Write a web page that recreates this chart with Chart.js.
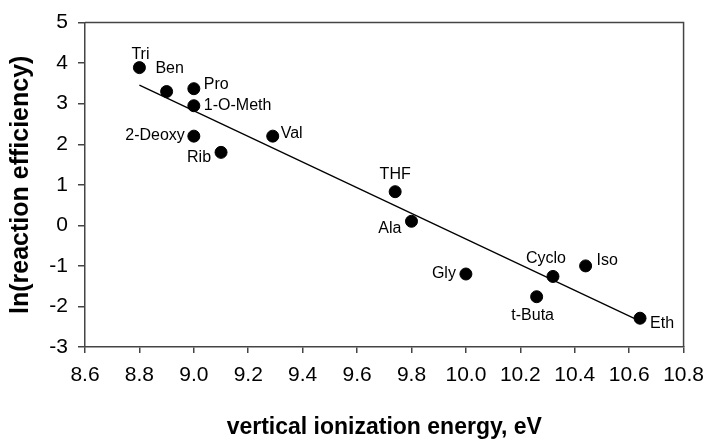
<!DOCTYPE html>
<html>
<head>
<meta charset="utf-8">
<script src="https://cdn.jsdelivr.net/npm/chart.js@4/dist/chart.umd.min.js"></script>
<style>
  html, body { margin: 0; padding: 0; background: #fff; }
  #wrap { width: 714px; height: 447px; }
</style>
</head>
<body>
<div id="wrap"><canvas id="c" width="714" height="447"></canvas></div>
<script>
// ---- data ----
const names = ["Tri", "Ben", "Pro", "1-O-Meth", "2-Deoxy", "Rib", "Val", "THF", "Ala", "Gly", "Cyclo", "Iso", "t-Buta", "Eth"];
const ionEnergy = [8.80, 8.90, 9.00, 9.00, 9.00, 9.10, 9.29, 9.74, 9.80, 10.00, 10.32, 10.44, 10.26, 10.64];
const lnEff = [3.89, 3.30, 3.37, 2.95, 2.20, 1.80, 2.20, 0.83, 0.10, -1.20, -1.26, -1.00, -1.76, -2.29];
const fitX = [8.80, 10.64];
const fitY = [3.46, -2.36];
const xTicks = [8.6, 8.8, 9.0, 9.2, 9.4, 9.6, 9.8, 10.0, 10.2, 10.4, 10.6, 10.8];
const yTicks = [-3, -2, -1, 0, 1, 2, 3, 4, 5];
const xTitle = "vertical ionization energy, eV";
const yTitle = "ln(reaction efficiency)";

// ---- label placement (style) ----
const labelPlace = {
  "Tri":      { dx: 1,   dy: -13, align: "center" },
  "Ben":      { dx: 3,   dy: -23, align: "center" },
  "Pro":      { dx: 10,  dy: -4,  align: "left" },
  "1-O-Meth": { dx: 10,  dy: 0,   align: "left" },
  "2-Deoxy":  { dx: -9,  dy: -1,  align: "right" },
  "Rib":      { dx: -10, dy: 5,   align: "right" },
  "Val":      { dx: 8,   dy: -3,  align: "left" },
  "THF":      { dx: 0,   dy: -17, align: "center" },
  "Ala":      { dx: -10, dy: 7,   align: "right" },
  "Gly":      { dx: -10, dy: 0,   align: "right" },
  "Cyclo":    { dx: -7,  dy: -18, align: "center" },
  "Iso":      { dx: 11,  dy: -5,  align: "left" },
  "t-Buta":   { dx: -4,  dy: 19,  align: "center" },
  "Eth":      { dx: 10,  dy: 5,   align: "left" }
};

const FONT = "'Liberation Sans', Arial, sans-serif";
const AXIS_COLOR = "#444";

const pointLabels = {
  id: "pointLabels",
  afterDatasetsDraw(chart) {
    const ctx = chart.ctx;
    const xs = chart.scales.x, ys = chart.scales.y;
    ctx.save();
    ctx.font = "16px " + FONT;
    ctx.fillStyle = "#000";
    ctx.textBaseline = "middle";
    names.forEach((n, i) => {
      const p = labelPlace[n];
      const px = xs.getPixelForValue(ionEnergy[i]) + p.dx;
      const py = ys.getPixelForValue(lnEff[i]) + p.dy;
      ctx.textAlign = p.align;
      ctx.fillText(n, px, py);
    });
    ctx.restore();
  }
};

const frame = {
  id: "frame",
  beforeDatasetsDraw(chart) {
    const a = chart.chartArea, ctx = chart.ctx;
    ctx.save();
    ctx.strokeStyle = AXIS_COLOR;
    ctx.lineWidth = 1.5;
    ctx.beginPath();
    ctx.moveTo(a.left, a.top);
    ctx.lineTo(a.right, a.top);
    ctx.lineTo(a.right, a.bottom);
    ctx.stroke();
    ctx.restore();
  }
};

new Chart(document.getElementById("c"), {
  type: "scatter",
  data: {
    datasets: [
      {
        type: "line",
        data: fitX.map((x, i) => ({ x: x, y: fitY[i] })),
        borderColor: "#000",
        borderWidth: 1.3,
        pointRadius: 0,
        fill: false,
        order: 2
      },
      {
        data: ionEnergy.map((x, i) => ({ x: x, y: lnEff[i] })),
        backgroundColor: "#000",
        borderColor: "#000",
        pointRadius: 6,
        pointHoverRadius: 6,
        order: 1
      }
    ]
  },
  options: {
    responsive: false,
    animation: false,
    events: [],
    layout: { padding: { top: 16, right: 28, left: 0, bottom: 0 } },
    plugins: { legend: { display: false }, tooltip: { enabled: false } },
    scales: {
      x: {
        type: "linear",
        min: 8.6, max: 10.8,
        afterBuildTicks: s => { s.ticks = xTicks.map(v => ({ value: v })); },
        afterFit: s => { s.height = 100; },
        ticks: {
          callback: v => v.toFixed(1),
          font: { size: 21, family: FONT },
          color: "#000",
          padding: 10,
          maxRotation: 0,
          autoSkip: false
        },
        grid: { drawOnChartArea: false, drawTicks: true, tickLength: 6, color: AXIS_COLOR, lineWidth: 1.5 },
        border: { display: true, color: AXIS_COLOR, width: 1.5 },
        title: {
          display: true,
          text: xTitle,
          font: { size: 23, weight: "bold", family: FONT },
          color: "#000",
          padding: { top: 6, bottom: 6 }
        }
      },
      y: {
        type: "linear",
        min: -3, max: 5,
        afterBuildTicks: s => { s.ticks = yTicks.map(v => ({ value: v })); },
        afterFit: s => { s.width = 85; },
        ticks: {
          callback: v => String(v),
          font: { size: 21, family: FONT },
          color: "#000",
          padding: 10,
          autoSkip: false
        },
        grid: { drawOnChartArea: false, drawTicks: true, tickLength: 7, color: AXIS_COLOR, lineWidth: 1.5 },
        border: { display: true, color: AXIS_COLOR, width: 1.5 },
        title: {
          display: true,
          text: yTitle,
          font: { size: 25, weight: "bold", family: FONT },
          color: "#000",
          padding: { top: 6, bottom: 6 }
        }
      }
    }
  },
  plugins: [frame, pointLabels]
});
</script>
</body>
</html>
